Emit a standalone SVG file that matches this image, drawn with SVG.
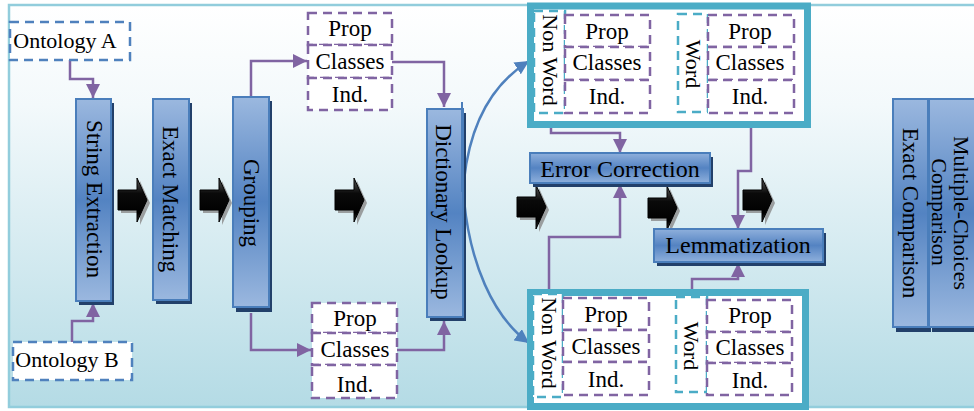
<svg xmlns="http://www.w3.org/2000/svg" width="974" height="411" viewBox="0 0 974 411">
  <defs>
    <linearGradient id="bg" x1="0" y1="0" x2="0" y2="1">
      <stop offset="0" stop-color="#FFFFFF"/>
      <stop offset="0.25" stop-color="#F3F9FB"/>
      <stop offset="1" stop-color="#B4DBE5"/>
    </linearGradient>
    <linearGradient id="boxFill" x1="0" y1="0" x2="0" y2="1">
      <stop offset="0" stop-color="#9BB8DF"/>
      <stop offset="0.5" stop-color="#5383C2"/>
      <stop offset="1" stop-color="#9BB8DF"/>
    </linearGradient>
    <linearGradient id="boxFillH" x1="0" y1="0" x2="0" y2="1">
      <stop offset="0" stop-color="#8FB0DC"/>
      <stop offset="0.5" stop-color="#5483C2"/>
      <stop offset="1" stop-color="#8FB0DC"/>
    </linearGradient>
    <linearGradient id="blk" x1="0" y1="0" x2="0" y2="1">
      <stop offset="0" stop-color="#5a5a5a"/>
      <stop offset="0.35" stop-color="#0a0a0a"/>
      <stop offset="0.8" stop-color="#000000"/>
      <stop offset="1" stop-color="#3a3a3a"/>
    </linearGradient>
    <marker id="ap" viewBox="0 0 10 10" refX="10" refY="5" markerWidth="14" markerHeight="14" markerUnits="userSpaceOnUse" orient="auto">
      <path d="M0,0 L10,5 L0,10 z" fill="#8064A2"/>
    </marker>
    <marker id="ab" viewBox="0 0 10 10" refX="10" refY="5" markerWidth="14" markerHeight="14" markerUnits="userSpaceOnUse" orient="auto">
      <path d="M0,0 L10,5 L0,10 z" fill="#4F81BD"/>
    </marker>
    <path id="barrow" d="M0,-10 H19 V-22 L29,0 L19,22 V10 H0 Z"/>
  </defs>
  <style>
    text { font-family: "Liberation Serif", "Times New Roman", serif; fill: #000; }
    .t23 { font-size: 23px; }
    .t22 { font-size: 22px; }
    .t24 { font-size: 24px; }
    .mid { text-anchor: middle; }
    .box { fill: url(#boxFill); stroke: #4A7EBB; stroke-width: 2; }
    .boxh { fill: url(#boxFillH); stroke: #4A7EBB; stroke-width: 2; }
    .shadow { fill: #22406A; }
    .onto { fill: #FFFFFF; stroke: #4F81BD; stroke-width: 2.5; stroke-dasharray: 9 6; }
    .pdash { fill: #FFFFFF; stroke: #8064A2; stroke-width: 2.5; stroke-dasharray: 9 6; }
    .tdash { fill: #FFFFFF; stroke: #4BACC6; stroke-width: 2.5; stroke-dasharray: 9 6; }
    .panel { fill: #FFFFFF; stroke: #4BACC6; stroke-width: 7; }
    .conn { fill: none; stroke: #8064A2; stroke-width: 2.5; marker-end: url(#ap); }
    .curve { fill: none; stroke: #4F81BD; stroke-width: 2.5; marker-end: url(#ab); }
    .bshadow { fill: #8a8a8a; opacity: 0.8; }
    .bfill { fill: url(#blk); stroke: #000; stroke-width: 1; }
  </style>

  <!-- canvas and outer frame -->
  <rect x="0" y="0" width="974" height="411" fill="#FFFFFF"/>
  <rect x="9" y="5" width="990" height="402" fill="url(#bg)" stroke="#92CDDC" stroke-width="2.5"/>

  <!-- block arrows between stages -->
  <g id="flow-arrows">
    <use href="#barrow" class="bshadow" transform="translate(121,203)"/>
    <use href="#barrow" class="bfill" transform="translate(118,200)"/>
    <use href="#barrow" class="bshadow" transform="translate(203,203)"/>
    <use href="#barrow" class="bfill" transform="translate(200,200)"/>
    <use href="#barrow" class="bshadow" transform="translate(338,203)"/>
    <use href="#barrow" class="bfill" transform="translate(335,200)"/>
    <use href="#barrow" class="bshadow" transform="translate(520,210)"/>
    <use href="#barrow" class="bfill" transform="translate(517,207)"/>
    <use href="#barrow" class="bshadow" transform="translate(651,211)"/>
    <use href="#barrow" class="bfill" transform="translate(648,208)"/>
    <use href="#barrow" class="bshadow" transform="translate(746,203)"/>
    <use href="#barrow" class="bfill" transform="translate(743,200)"/>
  </g>

  <!-- connectors -->
  <g id="connectors">
    <path class="conn" d="M70,60 V79 H93 V98"/>
    <path class="conn" d="M72,342 V321 H93 V303"/>
    <path class="conn" d="M251,97 V61 H307"/>
    <path class="conn" d="M251,313 V350 H311"/>
    <path class="conn" d="M392,62 H444 V107"/>
    <path class="conn" d="M397,350 H444 V321"/>
    <path class="curve" d="M464,180 C470,125 492,84 529,61"/>
    <path class="curve" d="M464,200 C470,262 492,316 529,343"/>
    <path class="conn" d="M551,128 V133 H620 V153"/>
    <path class="conn" d="M549,290 V237 H620 V184"/>
    <path class="conn" d="M751,128 V171 H738 V229"/>
    <path class="conn" d="M692,290 V279 H738 V263"/>
  </g>

  <!-- ontology inputs -->
  <g id="ontology-a">
    <rect class="onto" x="10" y="22" width="120" height="38"/>
    <text class="t22 mid" x="65" y="48">Ontology A</text>
  </g>
  <g id="ontology-b">
    <rect class="onto" x="13" y="342" width="119" height="38"/>
    <text class="t22 mid" x="67" y="367">Ontology B</text>
  </g>

  <!-- processing stages -->
  <g id="string-extraction">
    <rect class="shadow" x="79" y="103" width="35" height="202"/>
    <rect class="box" x="76" y="99" width="35" height="202"/>
    <text class="t23 mid" transform="translate(87,199) rotate(90)">String Extraction</text>
  </g>
  <g id="exact-matching">
    <rect class="shadow" x="156" y="103" width="36" height="201"/>
    <rect class="box" x="153" y="99" width="36" height="201"/>
    <text class="t23 mid" transform="translate(163,199) rotate(90)">Exact Matching</text>
  </g>
  <g id="grouping">
    <rect class="shadow" x="236" y="101" width="36" height="211"/>
    <rect class="box" x="233" y="97" width="36" height="210"/>
    <text class="t23 mid" transform="translate(244,203) rotate(90)">Grouping</text>
  </g>

  <g id="group-top">
    <rect class="pdash" x="308" y="13" width="84" height="32"/>
    <rect class="pdash" x="308" y="45" width="84" height="33"/>
    <rect class="pdash" x="308" y="78" width="84" height="32"/>
    <text class="t23 mid" x="350" y="36">Prop</text>
    <text class="t23 mid" x="350" y="69">Classes</text>
    <text class="t23 mid" x="350" y="102">Ind.</text>
  </g>
  <g id="group-bottom">
    <rect class="pdash" x="312" y="303" width="85" height="30"/>
    <rect class="pdash" x="312" y="333" width="85" height="32"/>
    <rect class="pdash" x="312" y="365" width="85" height="33"/>
    <text class="t23 mid" x="355" y="326">Prop</text>
    <text class="t23 mid" x="355" y="357">Classes</text>
    <text class="t23 mid" x="355" y="392">Ind.</text>
  </g>

  <g id="dictionary-lookup">
    <rect class="shadow" x="430" y="113" width="36" height="208"/>
    <rect class="box" x="427" y="109" width="36" height="208"/>
    <line x1="462" y1="102" x2="462" y2="192" stroke="#4A7EBB" stroke-width="2"/>
    <text class="t23 mid" transform="translate(436,212) rotate(90)">Dictionary Lookup</text>
  </g>

  <!-- spell-check result panels -->
  <g id="panel-top">
    <rect class="panel" x="530.5" y="6" width="277" height="118.5"/>
    <rect class="tdash" x="534" y="11" width="31" height="102"/>
    <text class="t22 mid" transform="translate(543,60) rotate(90)">Non Word</text>
    <rect class="pdash" x="565" y="15" width="85" height="32"/>
    <rect class="pdash" x="565" y="47" width="85" height="33"/>
    <rect class="pdash" x="565" y="80" width="85" height="33"/>
    <text class="t23 mid" x="607" y="39">Prop</text>
    <text class="t23 mid" x="607" y="70">Classes</text>
    <text class="t23 mid" x="607" y="104">Ind.</text>
    <rect class="tdash" x="678" y="14" width="30" height="98"/>
    <text class="t22 mid" transform="translate(686,64) rotate(90)">Word</text>
    <rect class="pdash" x="708" y="15" width="86" height="32"/>
    <rect class="pdash" x="708" y="47" width="86" height="33"/>
    <rect class="pdash" x="708" y="80" width="86" height="33"/>
    <text class="t23 mid" x="750" y="39">Prop</text>
    <text class="t23 mid" x="750" y="70">Classes</text>
    <text class="t23 mid" x="750" y="104">Ind.</text>
  </g>
  <g id="panel-bottom">
    <rect class="panel" x="530.5" y="292.5" width="275" height="114"/>
    <rect class="tdash" x="533" y="294" width="30" height="103"/>
    <text class="t22 mid" transform="translate(542,343) rotate(90)">Non Word</text>
    <rect class="pdash" x="563" y="298" width="86" height="32"/>
    <rect class="pdash" x="563" y="330" width="86" height="32"/>
    <rect class="pdash" x="563" y="362" width="86" height="33"/>
    <text class="t23 mid" x="606" y="322">Prop</text>
    <text class="t23 mid" x="606" y="354">Classes</text>
    <text class="t23 mid" x="606" y="387">Ind.</text>
    <rect class="tdash" x="676" y="297" width="31" height="95"/>
    <text class="t22 mid" transform="translate(684,346) rotate(90)">Word</text>
    <rect class="pdash" x="707" y="300" width="85" height="32"/>
    <rect class="pdash" x="707" y="332" width="85" height="31"/>
    <rect class="pdash" x="707" y="363" width="85" height="32"/>
    <text class="t23 mid" x="750" y="323">Prop</text>
    <text class="t23 mid" x="750" y="355">Classes</text>
    <text class="t23 mid" x="750" y="388">Ind.</text>
  </g>

  <g id="error-correction">
    <rect class="shadow" x="533" y="157" width="180" height="30"/>
    <rect class="boxh" x="530" y="153" width="180" height="30"/>
    <text class="t24 mid" x="620" y="177">Error Correction</text>
  </g>
  <g id="lemmatization">
    <rect class="shadow" x="657" y="233" width="169" height="33"/>
    <rect class="boxh" x="654" y="229" width="169" height="33"/>
    <text class="t24 mid" x="738" y="253">Lemmatization</text>
  </g>

  <!-- comparison stages -->
  <g id="exact-comparison">
    <rect class="shadow" x="896" y="103" width="35" height="229"/>
    <rect class="box" x="893" y="99" width="35" height="228"/>
    <text class="t23 mid" transform="translate(903,213) rotate(90)">Exact Comparison</text>
  </g>
  <g id="multiple-choices-comparison">
    <rect class="shadow" x="932" y="103" width="60" height="229"/>
    <rect class="box" x="929" y="99" width="60" height="228"/>
    <text class="t22 mid" transform="translate(954,213) rotate(90)">Multiple-Choices</text>
    <text class="t22 mid" transform="translate(932,212) rotate(90)">Comparison</text>
  </g>
</svg>
